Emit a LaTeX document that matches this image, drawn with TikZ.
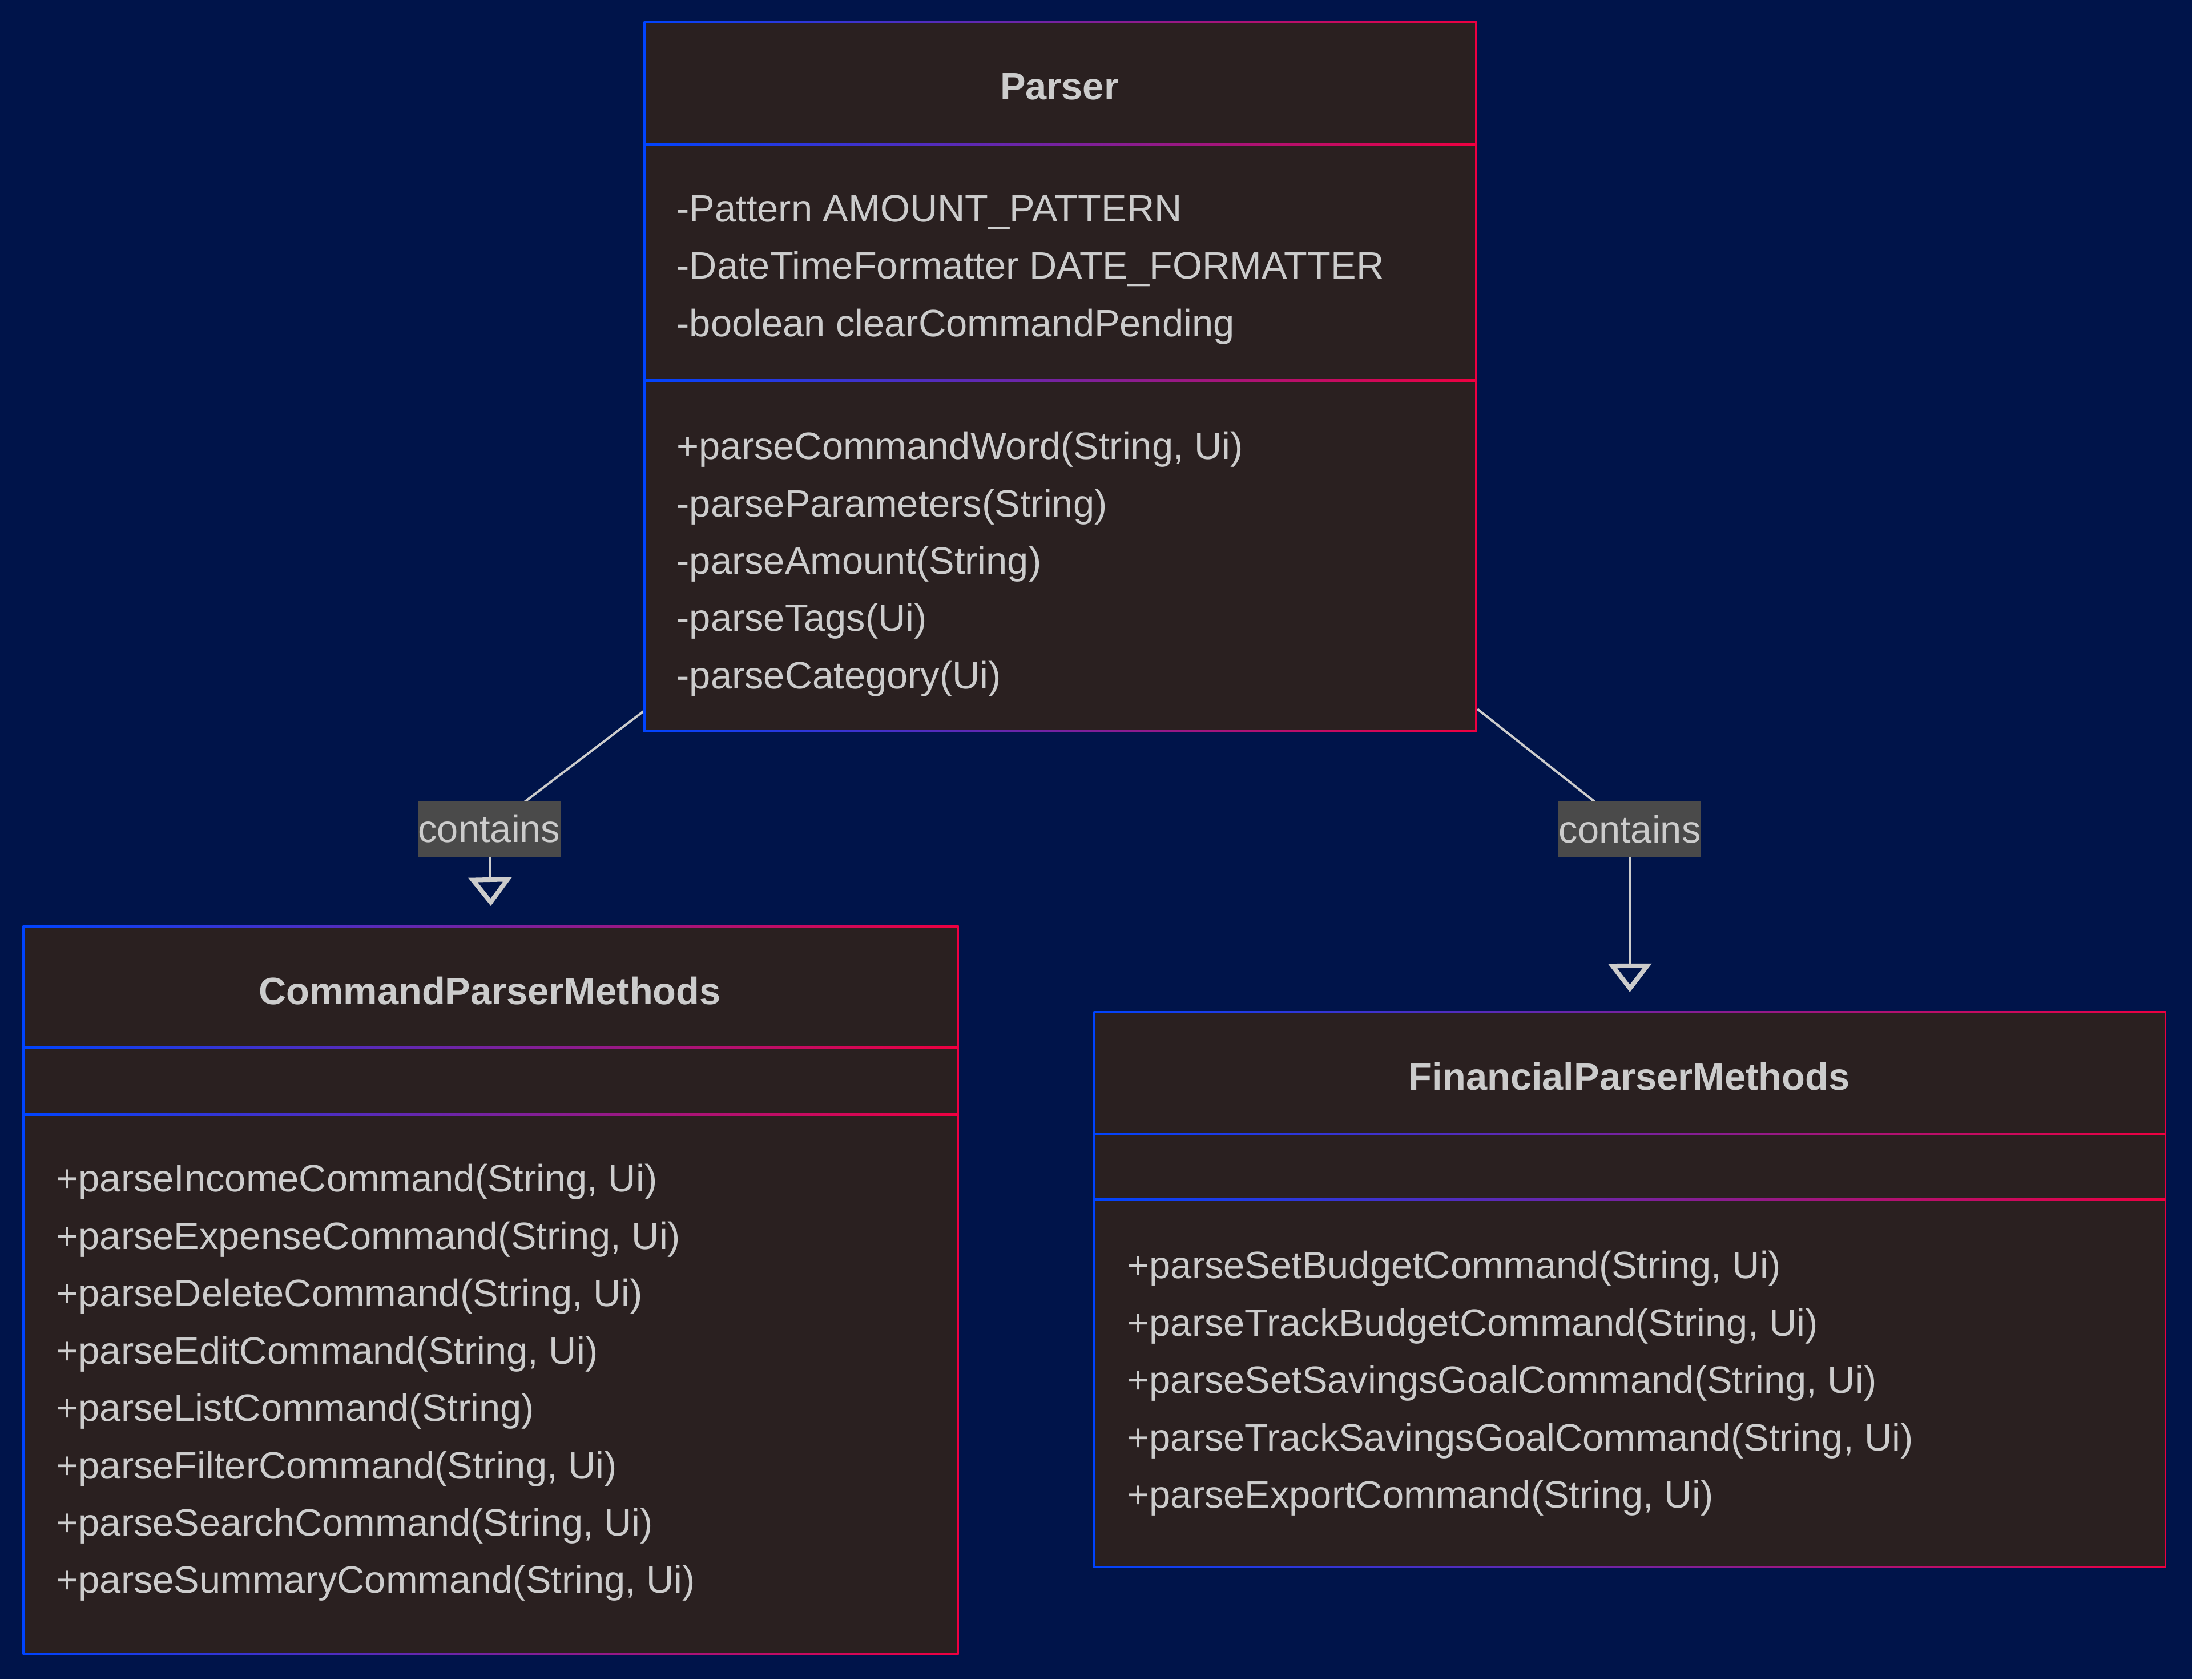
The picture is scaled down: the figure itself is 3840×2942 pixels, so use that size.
\documentclass[tikz,border=0pt]{standalone}
\usepackage{xcolor}
\usepackage{fontspec}
\setmainfont{Liberation Sans}
\usepackage{tikz}
\usetikzlibrary{arrows.meta, positioning, backgrounds}

\definecolor{pagebg}{HTML}{00144A}
\definecolor{clsfill}{HTML}{2A2020}
\definecolor{clsblue}{HTML}{0044FF}
\definecolor{clsred}{HTML}{EE0040}
\definecolor{clstext}{HTML}{CCCCCC}
\definecolor{lblfill}{HTML}{4A4A4A}

\begin{document}
\begin{tikzpicture}[
		x=0.01cm, y=-0.01cm,
		cls/.style={rectangle, anchor=north west, inner sep=0pt,
			left color=clsblue, right color=clsred},
		divider/.style={left color=clsblue, right color=clsred},
		clstitle/.style={text=clstext, inner sep=0pt,
			font=\fontsize{19}{22}\selectfont\bfseries},
		member/.style={anchor=west, text=clstext, inner sep=0pt,
			text height=0.48cm, text depth=0.01cm,
			font=\fontsize{19}{22}\selectfont},
		lbl/.style={fill=lblfill, text=clstext, inner xsep=0.01cm,
			minimum height=0.98cm, font=\fontsize{19}{22}\selectfont},
		rel/.style={draw=clstext, line width=0.04cm,
			-{Triangle[open, length=0.5cm, width=0.75cm, line width=0.08cm]}}
	]
	% page colour first, on the background layer, so the relation lines
	% drawn there later still sit above it but under the labels
	\begin{scope}[on background layer]
		\fill[pagebg] (0,0) rectangle (3840,2942);
	\end{scope}

	% Parser -- the outer node is only the gradient frame, the dark body
	% is filled 4px inside it, dividers are thin shaded strips
	\node[cls, minimum width=14.59cm, minimum height=12.44cm] (parser) at (1127,37) {};
	\fill[clsfill] ([shift={(0.04cm,-0.04cm)}]parser.north west)
		rectangle ([shift={(-0.04cm,0.04cm)}]parser.south east);
	\shade[divider] (1127,250) rectangle (2586,254);
	\shade[divider] (1127,664) rectangle (2586,668);
	\node[clstitle] (parsertitle) at (1856,152) {Parser};
	\node[member] (parserattr1) at (1185,365) {-Pattern AMOUNT\_PATTERN};
	\node[member] (parserattr2) at (1185,465) {-DateTimeFormatter DATE\_FORMATTER};
	\node[member] (parserattr3) at (1185,566) {-boolean clearCommandPending};
	\node[member] (parserop1) at (1185,781) {+parseCommandWord(String, Ui)};
	\node[member] (parserop2) at (1185,882) {-parseParameters(String)};
	\node[member] (parserop3) at (1185,982) {-parseAmount(String)};
	\node[member] (parserop4) at (1185,1082) {-parseTags(Ui)};
	\node[member] (parserop5) at (1185,1183) {-parseCategory(Ui)};

	% CommandParserMethods -- empty attribute compartment
	\node[cls, minimum width=16.39cm, minimum height=12.76cm] (cmdp) at (39,1621) {};
	\fill[clsfill] ([shift={(0.04cm,-0.04cm)}]cmdp.north west)
		rectangle ([shift={(-0.04cm,0.04cm)}]cmdp.south east);
	\shade[divider] (39,1832) rectangle (1678,1836);
	\shade[divider] (39,1950) rectangle (1678,1954);
	\node[clstitle] (cmdptitle) at (858,1736) {CommandParserMethods};
	\node[member] (cmdpop1) at (98,2064) {+parseIncomeCommand(String, Ui)};
	\node[member] (cmdpop2) at (98,2165) {+parseExpenseCommand(String, Ui)};
	\node[member] (cmdpop3) at (98,2265) {+parseDeleteCommand(String, Ui)};
	\node[member] (cmdpop4) at (98,2366) {+parseEditCommand(String, Ui)};
	\node[member] (cmdpop5) at (98,2466) {+parseListCommand(String)};
	\node[member] (cmdpop6) at (98,2567) {+parseFilterCommand(String, Ui)};
	\node[member] (cmdpop7) at (98,2667) {+parseSearchCommand(String, Ui)};
	\node[member] (cmdpop8) at (98,2767) {+parseSummaryCommand(String, Ui)};

	% FinancialParserMethods -- sits lower than its sibling
	\node[cls, minimum width=18.78cm, minimum height=9.74cm] (finp) at (1915,1771) {};
	\fill[clsfill] ([shift={(0.04cm,-0.04cm)}]finp.north west)
		rectangle ([shift={(-0.04cm,0.04cm)}]finp.south east);
	\shade[divider] (1915,1984) rectangle (3793,1988);
	\shade[divider] (1915,2099) rectangle (3793,2103);
	\node[clstitle] (finptitle) at (2854,1886) {FinancialParserMethods};
	\node[member] (finpop1) at (1974,2216) {+parseSetBudgetCommand(String, Ui)};
	\node[member] (finpop2) at (1974,2317) {+parseTrackBudgetCommand(String, Ui)};
	\node[member] (finpop3) at (1974,2417) {+parseSetSavingsGoalCommand(String, Ui)};
	\node[member] (finpop4) at (1974,2518) {+parseTrackSavingsGoalCommand(String, Ui)};
	\node[member] (finpop5) at (1974,2618) {+parseExportCommand(String, Ui)};

	% relation labels, centred over the class they point into
	\node[lbl] (containsA) at (857,1452) {contains};
	\node[lbl] (containsB) at (2855,1453) {contains};

	% the relations run behind their labels
	\begin{scope}[on background layer]
		\draw[rel] ([yshift=0.37cm]parser.south west) -- (containsA.center)
			-- ([yshift=0.34cm]cmdp.north);
		\draw[rel] ([yshift=0.41cm]parser.south east) -- (containsB.center)
			-- ([yshift=0.33cm]finp.north);
	\end{scope}
\end{tikzpicture}
\end{document}
